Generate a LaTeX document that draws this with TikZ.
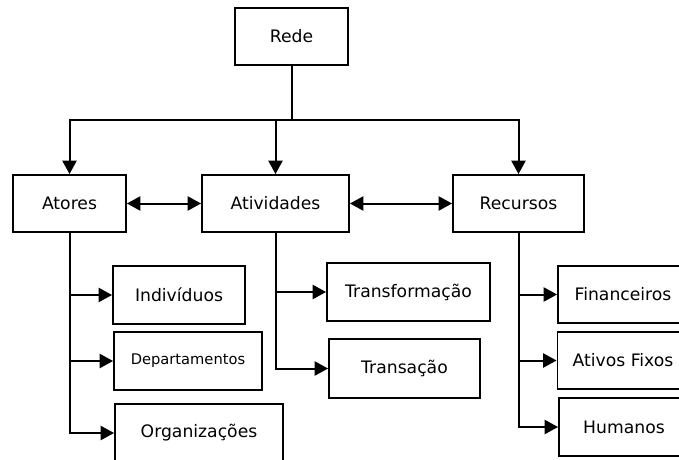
\documentclass[tikz,border=0pt]{standalone}
\usepackage{fontspec}
\setmainfont{DejaVu Sans}
\usetikzlibrary{arrows.meta}

\tikzset{
  box/.style 2 args={draw, line width=1.4pt, inner sep=0pt,
    minimum width=#1*0.75pt, minimum height=#2*0.75pt,
    font=\fontsize{12.9}{15}\selectfont},
  conn/.style={line width=1.5pt},
  arr/.style={conn, -{Triangle[length=10pt,width=10.5pt]}},
  dbl/.style={conn, {Triangle[length=10pt,width=10.5pt]}-{Triangle[length=10pt,width=10.5pt]}}
}

\begin{document}
\begin{tikzpicture}[x=0.75pt, y=-0.75pt]
  \useasboundingbox (0,0) rectangle (679,460);
  \clip (0,0) rectangle (679,460);

  % top level
  \node[box={113}{57}] (rede) at (291.5,36.5) {Rede};

  % second level
  \node[box={113}{57}] (atores)     at (69.5,203.5)  {Atores};
  \node[box={147}{57}] (atividades) at (275.5,203.5) {Atividades};
  \node[box={131}{57}] (recursos)   at (518.5,203.5) {Recursos};

  % actors
  \node[box={132}{58}] (individuos) at (179,295) {Indivíduos};
  \node[box={148}{58}, font=\fontsize{11}{13}\selectfont] (departamentos) at (188,361) {Departamentos};
  \node[box={168}{58}] (organizacoes) at (199,433) {Organizações};

  % activities
  \node[box={163}{58}] (transformacao) at (408.5,292) {Transformação};
  \node[box={151}{59}] (transacao)     at (404.5,368.5) {Transação};

  % resources
  \node[box={130}{57}] (financeiros) at (623,294.5) {Financeiros};
  \node[box={131}{57}] (ativos)      at (623,360.5) {Ativos Fixos};
  \node[box={130}{58}] (humanos)     at (624,427)   {Humanos};

  % distribution bus below the root
  \coordinate (bus) at (291.5,120);
  \draw[arr] (rede.south) -- (bus) -| (atores.north);
  \draw[arr] (bus) -| (recursos.north);
  \draw[arr] (atividades.north |- bus) -- (atividades.north);

  % links between second-level boxes
  \draw[dbl] (atores.east) -- (atividades.west);
  \draw[dbl] (atividades.east) -- (recursos.west);

  % branches
  \draw[arr] (atores.south) |- (individuos.west);
  \draw[arr] (atores.south) |- (departamentos.west);
  \draw[arr] (atores.south) |- (organizacoes.west);

  \draw[arr] (atividades.south) |- (transformacao.west);
  \draw[arr] (atividades.south) |- (transacao.west);

  \draw[arr] (recursos.south) |- (financeiros.west);
  \draw[arr] (recursos.south) |- (ativos.west);
  \draw[arr] (recursos.south) |- (humanos.west);
\end{tikzpicture}
\end{document}
